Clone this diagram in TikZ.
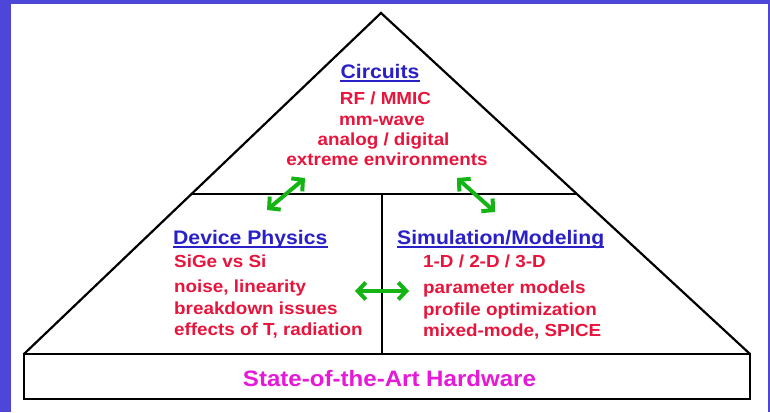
\documentclass[tikz,border=0pt]{standalone}
\usepackage{fontspec}
\setmainfont{Liberation Sans}[FakeStretch=1.08]
\usetikzlibrary{arrows.meta,calc}
\definecolor{frameblue}{HTML}{4E46D8}
\definecolor{hdrblue}{HTML}{2A20C8}
\definecolor{txtred}{HTML}{E8143C}
\definecolor{hwmag}{HTML}{E619D8}
\definecolor{arrgreen}{HTML}{14B414}
\begin{document}
\begin{tikzpicture}[x=1pt,y=-1pt,
  edge/.style={draw=black,line width=2.2pt,line join=miter},
  hdr/.style={inner sep=0pt,text=hdrblue,font=\fontsize{19.6}{22}\selectfont\bfseries},
  redtxt/.style={inner sep=0pt,text=txtred,font=\fontsize{17.45}{20}\selectfont\bfseries},
  hwtxt/.style={inner sep=0pt,text=hwmag,font=\fontsize{22.3}{26}\selectfont\bfseries},
  uline/.style={draw=hdrblue,line width=1.5pt},
  garrow/.style={draw=arrgreen,line width=4pt,{Straight Barb[length=8pt,width=17pt]}-{Straight Barb[length=8pt,width=17pt]}}
]
\useasboundingbox (0,0) rectangle (770,412);
\fill[frameblue] (0,0) rectangle (770,412);
\fill[white] (11,4) rectangle (768,412);
% structure
\coordinate (L) at (24,354);
\coordinate (A) at (381,13);
\coordinate (R) at (750,354);
\coordinate (ML) at ($(L)!0.4692!(A)$);
\coordinate (MR) at ($(R)!0.4692!(A)$);
\coordinate (VT) at (382,194);
\coordinate (VB) at (382,354);
\draw[edge] (L) -- (A) -- (R);
\draw[edge] (ML) -- (MR);
\draw[edge] (VT) -- (VB);
\draw[edge] (24,354) rectangle (750,399);
% circuits
\node[hdr,anchor=base] (c0) at (380,78) {Circuits};
\draw[uline] ([yshift=-3pt]c0.base west) -- ([yshift=-3pt]c0.base east);
\node[redtxt,anchor=base] (c1) at (385.5,104) {RF / MMIC};
\node[redtxt,anchor=base] (c2) at (382,125) {mm-wave};
\node[redtxt,anchor=base] (c3) at (383.5,145) {analog / digital};
\node[redtxt,anchor=base] (c4) at (387,165) {extreme environments};
% device physics
\node[hdr,anchor=base west] (d0) at (173,244) {Device Physics};
\draw[uline] ([yshift=-3pt]d0.base west) -- ([yshift=-3pt]d0.base east);
\node[redtxt,anchor=base west] (d1) at (174,267) {SiGe vs Si};
\node[redtxt,anchor=base west] (d2) at (174,292) {noise, linearity};
\node[redtxt,anchor=base west] (d3) at (174,314) {breakdown issues};
\node[redtxt,anchor=base west] (d4) at (174,335) {effects of T, radiation};
% simulation
\node[hdr,anchor=base west] (s0) at (397,244) {Simulation/Modeling};
\draw[uline] ([yshift=-3pt]s0.base west) -- ([yshift=-3pt]s0.base east);
\node[redtxt,anchor=base west] (s1) at (423,267) {1-D / 2-D / 3-D};
\node[redtxt,anchor=base west] (s2) at (423,293) {parameter models};
\node[redtxt,anchor=base west] (s3) at (423,315) {profile optimization};
\node[redtxt,anchor=base west] (s4) at (423,336) {mixed-mode, SPICE};
% hardware
\node[hwtxt,anchor=base] (hw) at (389.5,386) {State-of-the-Art Hardware};
% arrows
\coordinate (a1) at (267,210);
\coordinate (a2) at (305,178);
\coordinate (b1) at (457,178);
\coordinate (b2) at (495,212);
\coordinate (h1) at (355,291);
\coordinate (h2) at (409,291);
\draw[garrow] (a1) -- (a2);
\draw[garrow] (b1) -- (b2);
\draw[garrow] (h1) -- (h2);
\end{tikzpicture}
\end{document}
